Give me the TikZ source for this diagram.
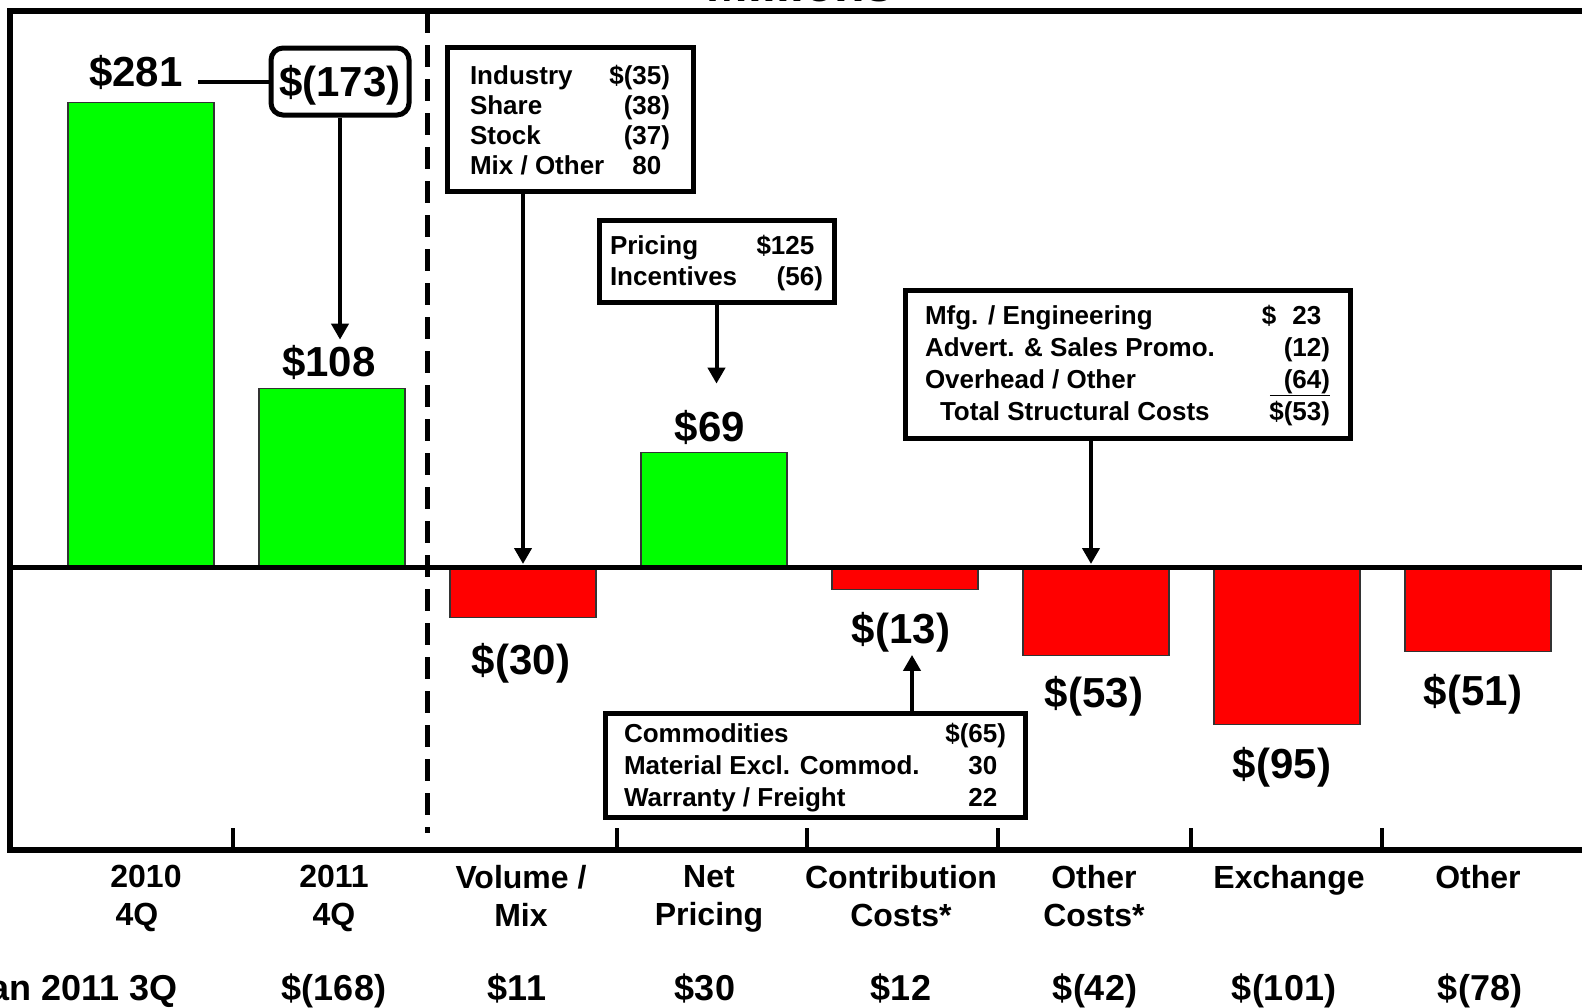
\documentclass[tikz,border=0pt]{standalone}
\usepackage{fontspec}
\setmainfont{Liberation Sans}
\usetikzlibrary{arrows.meta}

\tikzset{
  upbar/.style={draw=black!80, line width=1.2, fill=green, minimum width=146, inner sep=0},
  downbar/.style={draw=black!80, line width=1.2, fill=red, minimum width=146, inner sep=0},
  valtxt/.style={font={\fontsize{42}{42}\selectfont\bfseries}, anchor=base, inner sep=0},
  bridge/.style={draw, line width=5, rounded corners=12, minimum width=138, minimum height=67,
    inner sep=0, text height=30, text depth=0, font={\fontsize{42}{42}\selectfont\bfseries}},
  infobox/.style={draw, line width=5, inner sep=0, fill=white, font=\bfseries},
  pointer/.style={line width=4, -{Triangle[length=16pt,width=17pt]}},
  axislbl/.style={font={\fontsize{32}{38}\selectfont\bfseries}, align=center, anchor=north, inner sep=0},
  difflbl/.style={font={\fontsize{36}{36}\selectfont\bfseries}, anchor=base, inner sep=0}
}

\begin{document}
\begin{tikzpicture}[x=1pt,y=-1pt]
  \useasboundingbox (0,0) rectangle (1582,1007);
  \clip (0,0) rectangle (1582,1007);

  % bars
  \node[upbar, minimum height=464, anchor=south] (q10) at (141,567) {};
  \node[upbar, minimum height=178, anchor=south] (q11) at (332,567) {};
  \node[downbar, minimum height=50, anchor=north] (volmix) at (523,567) {};
  \node[upbar, minimum height=114, anchor=south] (netpr) at (714,567) {};
  \node[downbar, minimum height=22, anchor=north] (contc) at (905,567) {};
  \node[downbar, minimum height=88, anchor=north] (othc) at (1096,567) {};
  \node[downbar, minimum height=157, anchor=north] (exch) at (1287,567) {};
  \node[downbar, minimum height=84, anchor=north] (oth) at (1478,567) {};

  % frame, zero line, divider
  \draw[line width=5] (10,567) -- (1600,567);
  \draw[line width=6.5] (1600,11) -- (10,11) -- (10,850) -- (1600,850);
  \draw[line width=5, dash pattern=on 22pt off 12pt] (427,11) -- (427,833);
  \foreach \tx in {233,617,807,998,1191,1382}
    \draw[line width=4] (\tx,828) -- (\tx,850);

  \node[font={\fontsize{50}{50}\selectfont\bfseries}, anchor=base, inner sep=0] (ttl) at (800,1.5) {Millions};

  % bar values
  \node[valtxt] (v281) at (136,86) {\$281};
  \node[valtxt] (v108) at (329,376) {\$108};
  \node[valtxt] (v30) at (521,674) {\$(30)};
  \node[valtxt] (v69) at (710,441) {\$69};
  \node[valtxt] (v13) at (901,643) {\$(13)};
  \node[valtxt] (v53) at (1094,707) {\$(53)};
  \node[valtxt] (v95) at (1282,778) {\$(95)};
  \node[valtxt] (v51) at (1473,705) {\$(51)};

  \node[bridge] (b173) at (340,81.5) {\$(173)};
  \draw[line width=4, shorten <=15pt] (v281.east |- b173.west) -- (b173.west);
  \draw[pointer, shorten >=5pt] (b173.south) -- (b173.south |- v108.north);

  % detail boxes
  \node[infobox, minimum width=246, minimum height=144] (vmbox) at (570,119) {%
    \fontsize{26}{30}\selectfont
    \begin{tabular*}{200pt}{@{}l@{\extracolsep{\fill}}r@{}}
      \rule{0pt}{29pt}Industry & \$(35)\\
      Share & (38)\\
      Stock & (37)\\
      Mix / Other & 80\phantom{)}
    \end{tabular*}};
  \node[infobox, minimum width=235, minimum height=82] (prbox) at (716.5,261) {%
    \fontsize{26}{31}\selectfont
    \begin{tabular*}{213pt}{@{}l@{\extracolsep{\fill}}r@{}}
      \rule{0pt}{27.7pt}Pricing & \$125\phantom{)}\\
      Incentives & (56)
    \end{tabular*}};
  \node[infobox, minimum width=445, minimum height=148] (scbox) at (1127.5,364) {%
    \fontsize{26}{32}\selectfont
    \begin{tabular*}{405pt}{@{}l@{\extracolsep{\fill}}r@{}}
      \rule{0pt}{26.4pt}Mfg. / Engineering & \$\hspace{16pt}23\phantom{)}\\
      Advert. \& Sales Promo. & (12)\\
      Overhead / Other & \underline{\hspace{14pt}(64)}\\
      \hspace{15pt}Total Structural Costs & \$(53)
    \end{tabular*}};
  \node[infobox, minimum width=420, minimum height=104] (ccbox) at (815,765) {%
    \fontsize{26}{32}\selectfont
    \begin{tabular*}{382pt}{@{}l@{\extracolsep{\fill}}r@{}}
      \rule{0pt}{28.4pt}Commodities & \$(65)\\
      Material Excl. Commod. & 30\phantom{)}\\
      Warranty / Freight & 22\phantom{)}
    \end{tabular*}};

  \draw[pointer, shorten >=3pt] (vmbox.south -| volmix.north) -- (volmix.north);
  \draw[pointer, shorten >=26pt] (prbox.south) -- (prbox.south |- v69.north);
  \draw[pointer, shorten >=3pt] ([xshift=-5pt]scbox.south -| othc.north) -- ([xshift=-5pt]othc.north);
  \draw[pointer, shorten >=3pt] ([xshift=11pt]ccbox.north -| v13.south) -- ([xshift=11pt]v13.south);

  % category labels
  \node[axislbl] (c1) at (137,865) {\hspace*{18pt}2010\\4Q};
  \node[axislbl] (c2) at (334,865) {2011\\4Q};
  \node[axislbl] (c3) at (521,865) {Volume /\\Mix};
  \node[axislbl] (c4) at (709,865) {Net\\Pricing};
  \node[axislbl] (c5) at (901,865) {Contribution\\Costs*};
  \node[axislbl] (c6) at (1094,865) {Other\\Costs*};
  \node[axislbl] (c7) at (1289,865) {Exchange};
  \node[axislbl] (c8) at (1478,865) {Other};

  % change vs prior quarter
  \node[difflbl, anchor=base east] (d0) at (178,1000) {an 2011 3Q};
  \node[difflbl] (d2) at (334,1000) {\$(168)};
  \node[difflbl] (d3) at (517,1000) {\$11};
  \node[difflbl] (d4) at (705,1000) {\$30};
  \node[difflbl] (d5) at (901,1000) {\$12};
  \node[difflbl] (d6) at (1095,1000) {\$(42)};
  \node[difflbl] (d7) at (1284,1000) {\$(101)};
  \node[difflbl] (d8) at (1480,1000) {\$(78)};
\end{tikzpicture}
\end{document}
